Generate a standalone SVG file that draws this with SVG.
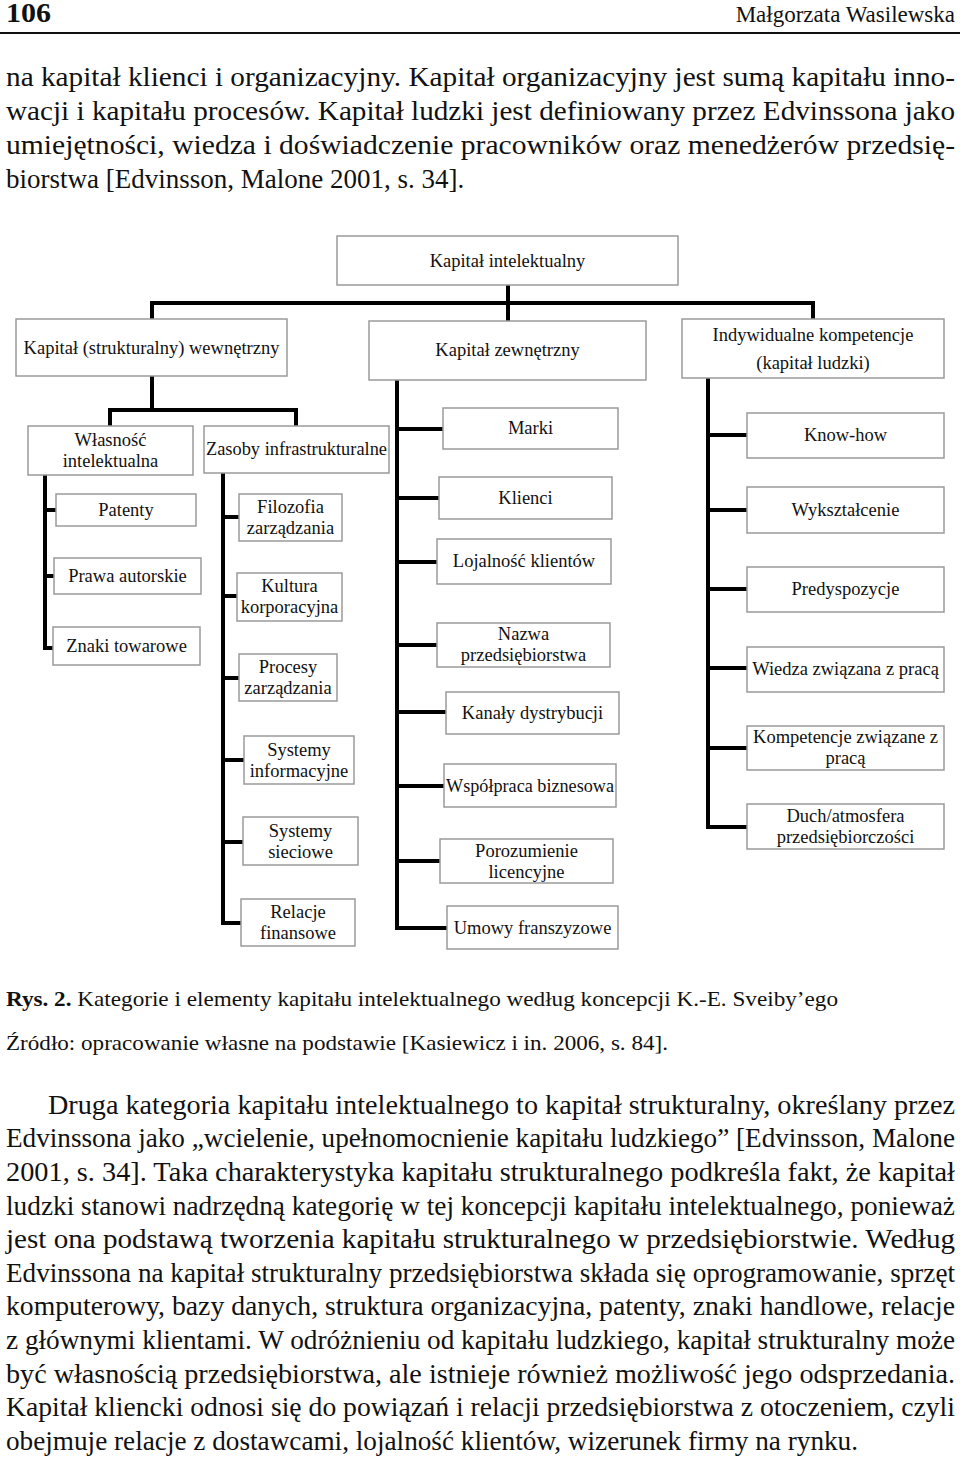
<svg xmlns="http://www.w3.org/2000/svg" width="960" height="1460" viewBox="0 0 960 1460">
<style>
.bg{fill:#fff}
.body{font-family:"Liberation Serif","Times New Roman",serif;font-size:27px;fill:#111}
.cap{font-family:"Liberation Serif","Times New Roman",serif;font-size:21px;fill:#111}
.box{fill:#fff;stroke:#9a9a9a;stroke-width:1.5}
.lbl{font-family:"Liberation Serif","Times New Roman",serif;font-size:18.5px;fill:#111;text-anchor:middle}
.con{fill:none;stroke:#000;stroke-width:4;stroke-linejoin:miter;stroke-linecap:butt}
</style>
<rect class="bg" x="0" y="0" width="960" height="1460"/>

<g id="header">
<text x="6" y="22" font-family="Liberation Serif, serif" font-size="27" font-weight="bold" fill="#111" textLength="45" lengthAdjust="spacingAndGlyphs">106</text>
<text x="955" y="22" font-family="Liberation Serif, serif" font-size="23" fill="#111" text-anchor="end">Małgorzata Wasilewska</text>
<line x1="0" y1="33" x2="960" y2="33" stroke="#111" stroke-width="2"/>
</g>

<g id="para1" class="body">
<text x="6" y="86" textLength="949" lengthAdjust="spacingAndGlyphs">na kapitał klienci i organizacyjny. Kapitał organizacyjny jest sumą kapitału inno-</text>
<text x="6" y="120" textLength="949" lengthAdjust="spacingAndGlyphs">wacji i kapitału procesów. Kapitał ludzki jest definiowany przez Edvinssona jako</text>
<text x="6" y="154" textLength="949" lengthAdjust="spacingAndGlyphs">umiejętności, wiedza i doświadczenie pracowników oraz menedżerów przedsię-</text>
<text x="6" y="188">biorstwa [Edvinsson, Malone 2001, s. 34].</text>
</g>

<g id="connectors">
<path class="con" d="M508 285 V303 M152 319 V303 H813 V319 M508 303 V321"/>
<path class="con" d="M152 376 V410 M110 426 V410 H296 V426"/>
<path class="con" d="M45 475 V648 H53 M45 510 H56 M45 576 H54"/>
<path class="con" d="M223 473 V923 H241 M223 517 H239 M223 596 H237 M223 678 H239 M223 760 H244 M223 842 H243"/>
<path class="con" d="M397 380 V928 H447 M397 429 H443 M397 498 H439 M397 562 H437 M397 645 H437 M397 712 H446 M397 786 H444 M397 861 H440"/>
<path class="con" d="M708 378 V827 H747 M708 435 H747 M708 510 H747 M708 589 H747 M708 668 H747 M708 748 H747"/>
</g>

<g id="n-top"><rect class="box" x="337" y="236" width="341" height="49"/><text class="lbl" x="507.5" y="267">Kapitał intelektualny</text></g>
<g id="n-wew"><rect class="box" x="16" y="319" width="271" height="57"/><text class="lbl" x="151.5" y="354">Kapitał (strukturalny) wewnętrzny</text></g>
<g id="n-zew"><rect class="box" x="369" y="321" width="277" height="59"/><text class="lbl" x="507.5" y="356">Kapitał zewnętrzny</text></g>
<g id="n-ind"><rect class="box" x="682" y="319" width="262" height="59"/><text class="lbl" x="813" y="341">Indywidualne kompetencje</text><text class="lbl" x="813" y="369">(kapitał ludzki)</text></g>

<g id="n-wlas"><rect class="box" x="28" y="426" width="165" height="49"/><text class="lbl" x="110.5" y="446">Własność</text><text class="lbl" x="110.5" y="467">intelektualna</text></g>
<g id="n-zas"><rect class="box" x="204" y="426" width="185" height="47"/><text class="lbl" x="296.5" y="455" textLength="181" lengthAdjust="spacingAndGlyphs">Zasoby infrastrukturalne</text></g>
<g id="n-pat"><rect class="box" x="56" y="494" width="140" height="32"/><text class="lbl" x="126" y="516">Patenty</text></g>
<g id="n-praw"><rect class="box" x="54" y="558" width="147" height="36"/><text class="lbl" x="127.5" y="582">Prawa autorskie</text></g>
<g id="n-znaki"><rect class="box" x="53" y="627" width="147" height="38"/><text class="lbl" x="126.5" y="652">Znaki towarowe</text></g>

<g id="n-filo"><rect class="box" x="239" y="494" width="103" height="47"/><text class="lbl" x="290.5" y="513">Filozofia</text><text class="lbl" x="290.5" y="534">zarządzania</text></g>
<g id="n-kult"><rect class="box" x="237" y="573" width="105" height="48"/><text class="lbl" x="289.5" y="592">Kultura</text><text class="lbl" x="289.5" y="613">korporacyjna</text></g>
<g id="n-proc"><rect class="box" x="239" y="654" width="98" height="47"/><text class="lbl" x="288" y="673">Procesy</text><text class="lbl" x="288" y="694">zarządzania</text></g>
<g id="n-sysi"><rect class="box" x="244" y="736" width="110" height="48"/><text class="lbl" x="299" y="756">Systemy</text><text class="lbl" x="299" y="777">informacyjne</text></g>
<g id="n-syss"><rect class="box" x="243" y="817" width="115" height="48"/><text class="lbl" x="300.5" y="837">Systemy</text><text class="lbl" x="300.5" y="858">sieciowe</text></g>
<g id="n-rel"><rect class="box" x="241" y="899" width="114" height="47"/><text class="lbl" x="298" y="918">Relacje</text><text class="lbl" x="298" y="939">finansowe</text></g>

<g id="n-marki"><rect class="box" x="443" y="408" width="175" height="41"/><text class="lbl" x="530.5" y="434">Marki</text></g>
<g id="n-klienci"><rect class="box" x="439" y="477" width="173" height="42"/><text class="lbl" x="525.5" y="504">Klienci</text></g>
<g id="n-loj"><rect class="box" x="437" y="539" width="174" height="45"/><text class="lbl" x="524" y="567">Lojalność klientów</text></g>
<g id="n-nazwa"><rect class="box" x="437" y="623" width="173" height="44"/><text class="lbl" x="523.5" y="640">Nazwa</text><text class="lbl" x="523.5" y="661">przedsiębiorstwa</text></g>
<g id="n-kan"><rect class="box" x="446" y="692" width="173" height="42"/><text class="lbl" x="532.5" y="719">Kanały dystrybucji</text></g>
<g id="n-wsp"><rect class="box" x="444" y="764" width="172" height="43"/><text class="lbl" x="530" y="792" textLength="168" lengthAdjust="spacingAndGlyphs">Współpraca biznesowa</text></g>
<g id="n-por"><rect class="box" x="440" y="839" width="173" height="44"/><text class="lbl" x="526.5" y="857">Porozumienie</text><text class="lbl" x="526.5" y="878">licencyjne</text></g>
<g id="n-umo"><rect class="box" x="447" y="906" width="171" height="43"/><text class="lbl" x="532.5" y="934">Umowy franszyzowe</text></g>

<g id="n-know"><rect class="box" x="747" y="413" width="197" height="45"/><text class="lbl" x="845.5" y="441">Know-how</text></g>
<g id="n-wyk"><rect class="box" x="747" y="487" width="197" height="46"/><text class="lbl" x="845.5" y="516">Wykształcenie</text></g>
<g id="n-pred"><rect class="box" x="747" y="567" width="197" height="45"/><text class="lbl" x="845.5" y="595">Predyspozycje</text></g>
<g id="n-wied"><rect class="box" x="747" y="647" width="197" height="45"/><text class="lbl" x="845.5" y="675">Wiedza związana z pracą</text></g>
<g id="n-komp"><rect class="box" x="747" y="726" width="197" height="44"/><text class="lbl" x="845.5" y="743">Kompetencje związane z</text><text class="lbl" x="845.5" y="764">pracą</text></g>
<g id="n-duch"><rect class="box" x="747" y="804" width="197" height="45"/><text class="lbl" x="845.5" y="822">Duch/atmosfera</text><text class="lbl" x="845.5" y="843">przedsiębiorczości</text></g>

<g id="caption" class="cap">
<text x="6" y="1006" textLength="832" lengthAdjust="spacingAndGlyphs"><tspan font-weight="bold">Rys. 2.</tspan> Kategorie i elementy kapitału intelektualnego według koncepcji K.-E. Sveiby’ego</text>
<text x="6" y="1050" textLength="662" lengthAdjust="spacingAndGlyphs">Źródło: opracowanie własne na podstawie [Kasiewicz i in. 2006, s. 84].</text>
</g>

<g id="para2" class="body">
<text x="48" y="1114" textLength="907" lengthAdjust="spacingAndGlyphs">Druga kategoria kapitału intelektualnego to kapitał strukturalny, określany przez</text>
<text x="6" y="1147" textLength="949" lengthAdjust="spacingAndGlyphs">Edvinssona jako „wcielenie, upełnomocnienie kapitału ludzkiego” [Edvinsson, Malone</text>
<text x="6" y="1181" textLength="949" lengthAdjust="spacingAndGlyphs">2001, s. 34]. Taka charakterystyka kapitału strukturalnego podkreśla fakt, że kapitał</text>
<text x="6" y="1215" textLength="949" lengthAdjust="spacingAndGlyphs">ludzki stanowi nadrzędną kategorię w tej koncepcji kapitału intelektualnego, ponieważ</text>
<text x="6" y="1248" textLength="949" lengthAdjust="spacingAndGlyphs">jest ona podstawą tworzenia kapitału strukturalnego w przedsiębiorstwie. Według</text>
<text x="6" y="1282" textLength="949" lengthAdjust="spacingAndGlyphs">Edvinssona na kapitał strukturalny przedsiębiorstwa składa się oprogramowanie, sprzęt</text>
<text x="6" y="1315" textLength="949" lengthAdjust="spacingAndGlyphs">komputerowy, bazy danych, struktura organizacyjna, patenty, znaki handlowe, relacje</text>
<text x="6" y="1349" textLength="949" lengthAdjust="spacingAndGlyphs">z głównymi klientami. W odróżnieniu od kapitału ludzkiego, kapitał strukturalny może</text>
<text x="6" y="1383" textLength="949" lengthAdjust="spacingAndGlyphs">być własnością przedsiębiorstwa, ale istnieje również możliwość jego odsprzedania.</text>
<text x="6" y="1416" textLength="949" lengthAdjust="spacingAndGlyphs">Kapitał kliencki odnosi się do powiązań i relacji przedsiębiorstwa z otoczeniem, czyli</text>
<text x="6" y="1450" textLength="852" lengthAdjust="spacingAndGlyphs">obejmuje relacje z dostawcami, lojalność klientów, wizerunek firmy na rynku.</text>
</g>
</svg>
